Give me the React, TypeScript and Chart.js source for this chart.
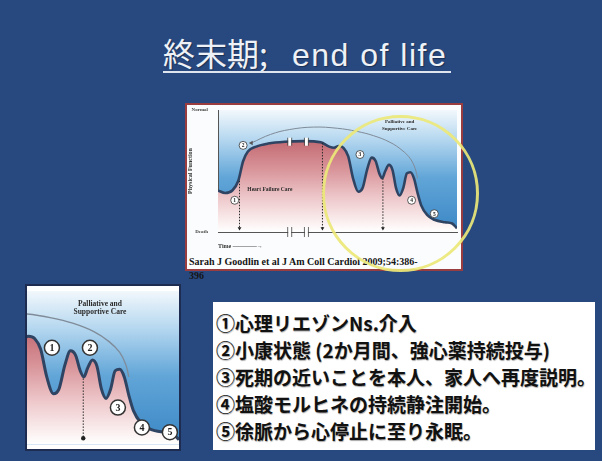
import React, { useEffect, useRef } from "react";
import { Chart, registerables } from "chart.js";

Chart.register(...registerables);

// ---- Data (time 0–100, physical function 0–100) ----
const TIME = [0, 3, 6, 8.5, 10.5, 12.5, 16, 21, 28, 36, 43, 46.5, 48.5, 50.5, 52.5, 54.5, 56.5, 58.7, 60.5, 62.5, 64.3, 66, 67.5, 68.7, 70, 71.5, 73, 74.5, 76, 77.5, 79, 80.5, 82, 83.5, 85, 87.5, 90.5, 95, 98, 100];
const FUNCTION_LEVEL = [34, 32, 34, 42, 58, 66, 70, 72.5, 74, 74.5, 73.5, 70, 69, 70.5, 69, 62, 44, 33, 36, 52, 61, 58, 48, 44, 50, 55, 51, 36, 30, 36, 48, 49, 44, 32, 22, 14, 10, 8, 7, 3];

// Palliative and supportive care arc
const ARC_TIME = [14, 22, 30, 40, 50, 58, 65, 72, 77, 80.5, 82.5, 83.5];
const ARC_LEVEL = [73, 80, 84, 86, 85, 82.5, 79, 73.5, 67, 60, 52, 44];

// Numbered events
const MARKER_LABELS = ["1", "2", "3", "4", "5"];
const MAIN_MARKER_TIME = [7, 10.5, 59.4, 81, 90.5];
const MAIN_MARKER_LEVEL = [26, 71, 63.5, 26, 15];
const INSET_MARKER_TIME = [58.2, 70.7, 79.9, 87.8, 97];
const INSET_MARKER_LEVEL = [63, 63, 24, 11, 8];

// Dotted drop lines
const MAIN_DROP_TIME = [9, 43.7, 69];
const MAIN_DROP_TOP = [42, 73, 44];
const INSET_DROP_TIME = [68.5];
const INSET_DROP_TOP = [43];

// Axis break positions
const BREAK_TIME = [30, 37];

const NOTES = [
  "①心理リエゾンNs.介入",
  "②小康状態 (2か月間、強心薬持続投与)",
  "③死期の近いことを本人、家人へ再度説明。",
  "④塩酸モルヒネの持続静注開始。",
  "⑤徐脈から心停止に至り永眠。",
];

type Label = { text: string; t: number; v: number; size: number };
type CurveProps = {
  left: number; top: number; width: number; height: number;
  xMin: number; xMax: number; yMin: number;
  padTop: number; padRight: number;
  axes: boolean;
  lineWidth: number; arcWidth: number;
  markerTime: number[]; markerLevel: number[]; markerRadius: number; markerFont: number;
  dropTime: number[]; dropTop: number[]; dropBottom: number; dropEnd: string;
  labels: Label[];
  breaks: number[];
  arcArrow: boolean;
};

function CurveChart(p: CurveProps) {
  const ref = useRef<HTMLCanvasElement | null>(null);
  useEffect(() => {
    const canvas = ref.current;
    if (!canvas) return;
    const curve = TIME.map((t, i) => ({ x: t, y: FUNCTION_LEVEL[i] }));
    const arc = ARC_TIME.map((t, i) => ({ x: t, y: ARC_LEVEL[i] }));
    const markers = p.markerTime.map((t, i) => ({ x: t, y: p.markerLevel[i] }));
    const drops = p.dropTime.map((t, i) => ({
      type: "line",
      order: 1,
      data: [{ x: t, y: p.dropTop[i] }, { x: t, y: p.dropBottom }],
      borderColor: "#2a2a2a",
      borderWidth: 1,
      borderDash: [1.5, 1.5],
      pointRadius: [0, 2.2],
      pointStyle: p.dropEnd,
      rotation: 180,
      pointBackgroundColor: "#222",
      pointBorderWidth: 0,
      fill: false,
    }));

    const pinkFill = (ctx: any) => {
      const chart = ctx.chart;
      const a = chart.chartArea;
      if (!a) return "rgba(0,0,0,0)";
      const y0 = chart.scales.y.getPixelForValue(0);
      const g = chart.ctx.createLinearGradient(0, a.top, 0, y0);
      g.addColorStop(0, "#bd5f69");
      g.addColorStop(0.28, "#c66f77");
      g.addColorStop(0.5, "#d9979c");
      g.addColorStop(0.72, "#eec8cb");
      g.addColorStop(0.92, "#fbf0f0");
      g.addColorStop(1, "#ffffff");
      return g;
    };

    const bgPlugin = {
      id: "bgGrad",
      beforeDraw(chart: any) {
        const a = chart.chartArea;
        const ctx = chart.ctx;
        const y0 = chart.scales.y.getPixelForValue(0);
        const g = ctx.createLinearGradient(0, a.top, 0, y0);
        g.addColorStop(0, "#f2f8fc");
        g.addColorStop(0.25, "#b3d6ef");
        g.addColorStop(0.55, "#62a6d8");
        g.addColorStop(1, "#3a86c5");
        ctx.save();
        ctx.fillStyle = g;
        ctx.fillRect(a.left, a.top, a.right - a.left, y0 - a.top);
        ctx.restore();
      },
    };

    const markerIndex = 2 + drops.length;
    const labelPlugin = {
      id: "labels",
      afterDatasetsDraw(chart: any) {
        const ctx = chart.ctx;
        const xs = chart.scales.x;
        const ys = chart.scales.y;
        ctx.save();
        // axis / curve breaks
        p.breaks.forEach((t) => {
          const x = xs.getPixelForValue(t);
          [ys.getPixelForValue(74), ys.getPixelForValue(0)].forEach((y, k) => {
            const h = k === 0 ? 4 : 5;
            ctx.fillStyle = "#ffffff";
            ctx.fillRect(x - 1.5, y - h, 3, h * 2);
            ctx.strokeStyle = "#444";
            ctx.lineWidth = 0.8;
            ctx.beginPath();
            ctx.moveTo(x - 2, y - h); ctx.lineTo(x - 2, y + h);
            ctx.moveTo(x + 2, y - h); ctx.lineTo(x + 2, y + h);
            ctx.stroke();
          });
        });
        // marker numbers
        const meta = chart.getDatasetMeta(markerIndex);
        ctx.fillStyle = "#222";
        ctx.textAlign = "center";
        ctx.textBaseline = "middle";
        ctx.font = `bold ${p.markerFont}px "Liberation Serif", serif`;
        meta.data.forEach((pt: any, i: number) => {
          ctx.fillText(MARKER_LABELS[i], pt.x, pt.y + 0.5);
        });
        // text labels
        p.labels.forEach((l) => {
          ctx.font = `bold ${l.size}px "Liberation Serif", serif`;
          ctx.fillStyle = "#2b2b2b";
          ctx.fillText(l.text, xs.getPixelForValue(l.t), ys.getPixelForValue(l.v));
        });
        ctx.restore();
      },
    };

    const datasets: any[] = [
      {
        type: "line",
        order: 3,
        data: curve,
        borderColor: "#2f4463",
        borderWidth: p.lineWidth,
        pointRadius: 0,
        cubicInterpolationMode: "monotone",
        fill: "origin",
        backgroundColor: pinkFill,
      },
      {
        type: "line",
        order: 2,
        data: arc,
        borderColor: "#7f8b98",
        borderWidth: p.arcWidth,
        tension: 0.4,
        fill: false,
        pointRadius: p.arcArrow ? arc.map((_, i) => (i === 0 ? 2.6 : 0)) : 0,
        pointStyle: "triangle",
        rotation: 270,
        pointBackgroundColor: "#555",
        pointBorderWidth: 0,
      },
      ...drops,
      {
        type: "line",
        order: 0,
        data: markers,
        showLine: false,
        pointRadius: p.markerRadius,
        pointBackgroundColor: "#ffffff",
        pointBorderColor: "#333",
        pointBorderWidth: p.markerRadius > 5 ? 1.5 : 0.8,
      },
    ];

    const font = { family: '"Liberation Serif", serif', weight: "bold" as const };
    const chart = new Chart(canvas, {
      type: "line",
      data: { datasets },
      options: {
        responsive: false,
        animation: false,
        events: [],
        layout: { autoPadding: false, padding: { top: p.padTop, right: p.padRight, left: 0, bottom: 0 } },
        plugins: { legend: { display: false }, tooltip: { enabled: false } },
        scales: {
          x: {
            type: "linear",
            display: p.axes,
            min: p.xMin,
            max: p.xMax,
            grid: { display: false },
            border: { display: true, color: "#555", width: 1 },
            ticks: { display: false },
            title: {
              display: true,
              text: "Time ————→",
              align: "start",
              color: "#333",
              font: { ...font, size: 6 },
              padding: { top: 3, bottom: 0 },
            },
            afterFit: (s: any) => { if (p.axes) s.height = 18; },
          },
          y: {
            type: "linear",
            display: p.axes,
            min: p.yMin,
            max: 100,
            grid: { display: false },
            border: { display: true, color: "#555", width: 1 },
            ticks: {
              stepSize: 100,
              padding: 2,
              color: "#444",
              font: { ...font, size: 5 },
              callback: (v: any) => (v === 0 ? "Death" : v === 100 ? "Normal" : ""),
            },
            title: {
              display: true,
              text: "Physical Function",
              color: "#333",
              font: { ...font, size: 6 },
              padding: 0,
            },
            afterFit: (s: any) => { if (p.axes) s.width = 31; },
          },
        },
      } as any,
      plugins: [bgPlugin, labelPlugin],
    });
    return () => chart.destroy();
  }, []);
  return (
    <canvas
      ref={ref}
      width={p.width}
      height={p.height}
      style={{ position: "absolute", left: p.left, top: p.top, width: p.width, height: p.height }}
    />
  );
}

export default function App() {
  return (
    <div
      style={{
        position: "fixed",
        left: 0,
        top: 0,
        width: 602,
        height: 461,
        background: "#284980",
        overflow: "hidden",
        fontFamily: '"Noto Sans CJK JP", sans-serif',
      }}
    >
      {/* Title */}
      <div
        style={{
          position: "absolute",
          left: 163,
          top: 36,
          whiteSpace: "pre",
          color: "#eef1f6",
          fontSize: 32,
          lineHeight: "32px",
          textShadow: "1px 1px 1px rgba(0,0,0,0.35)",
        }}
      >
        <span style={{ fontFamily: '"Noto Sans CJK JP", sans-serif', display: "inline-block", width: 129 }}>終末期;</span>
        <span style={{ fontFamily: '"Liberation Sans", sans-serif', letterSpacing: 1.5 }}>end of life</span>
      </div>
      <div style={{ position: "absolute", left: 163, top: 71, width: 288, height: 2, background: "#dfe5ee" }} />

      {/* Main chart box */}
      <div
        style={{
          position: "absolute",
          left: 185,
          top: 103,
          width: 278,
          height: 168,
          boxSizing: "border-box",
          border: "2px solid #9a3d40",
          background: "#fbfcfd",
        }}
      />
      <CurveChart
        left={187}
        top={105}
        width={274}
        height={145}
        xMin={0}
        xMax={100}
        yMin={0}
        padTop={3}
        padRight={4}
        axes={true}
        lineWidth={2.6}
        arcWidth={1}
        markerTime={MAIN_MARKER_TIME}
        markerLevel={MAIN_MARKER_LEVEL}
        markerRadius={4}
        markerFont={5.5}
        dropTime={MAIN_DROP_TIME}
        dropTop={MAIN_DROP_TOP}
        dropBottom={3}
        dropEnd="triangle"
        labels={[
          { text: "Heart Failure Care", t: 21.7, v: 35, size: 5.5 },
          { text: "Palliative and", t: 76, v: 90.5, size: 5 },
          { text: "Supportive Care", t: 76, v: 85, size: 5 },
        ]}
        breaks={BREAK_TIME}
        arcArrow={true}
      />
      <div
        style={{
          position: "absolute",
          left: 189,
          top: 255,
          width: 272,
          fontFamily: '"Liberation Serif", serif',
          fontWeight: "bold",
          fontSize: 10,
          lineHeight: "14px",
          color: "#151515",
          whiteSpace: "nowrap",
        }}
      >
        Sarah J Goodlin et al J Am Coll Cardiol 2009;54:386-
        <br />
        396
      </div>

      {/* Highlight circle */}
      <div
        style={{
          position: "absolute",
          left: 322,
          top: 115,
          width: 157,
          height: 157,
          boxSizing: "border-box",
          borderRadius: "50%",
          border: "3px solid rgba(236,232,120,0.92)",
        }}
      />

      {/* Inset */}
      <div
        style={{
          position: "absolute",
          left: 25,
          top: 284,
          width: 156,
          height: 167,
          boxSizing: "border-box",
          border: "2px solid #1d2c50",
          background: "#ffffff",
        }}
      />
      <CurveChart
        left={27}
        top={286}
        width={152}
        height={163}
        xMin={50}
        xMax={100}
        yMin={-3}
        padTop={5}
        padRight={0}
        axes={false}
        lineWidth={3}
        arcWidth={1.3}
        markerTime={INSET_MARKER_TIME}
        markerLevel={INSET_MARKER_LEVEL}
        markerRadius={7.5}
        markerFont={10}
        dropTime={INSET_DROP_TIME}
        dropTop={INSET_DROP_TOP}
        dropBottom={4}
        dropEnd="circle"
        labels={[
          { text: "Palliative and", t: 74, v: 91.5, size: 7.5 },
          { text: "Supportive Care", t: 74, v: 86, size: 7.5 },
        ]}
        breaks={[]}
        arcArrow={false}
      />

      {/* Notes */}
      <div
        style={{
          position: "absolute",
          left: 213,
          top: 302,
          width: 382,
          height: 148,
          boxSizing: "border-box",
          background: "#ffffff",
          padding: "7px 0 0 3px",
          color: "#111",
          fontWeight: "bold",
          fontSize: 19,
          lineHeight: "27px",
          whiteSpace: "nowrap",
          textShadow: "0.5px 0.5px 1px rgba(0,0,0,0.35)",
        }}
      >
        {NOTES.map((n, i) => (
          <div key={i}>{n}</div>
        ))}
      </div>
    </div>
  );
}
